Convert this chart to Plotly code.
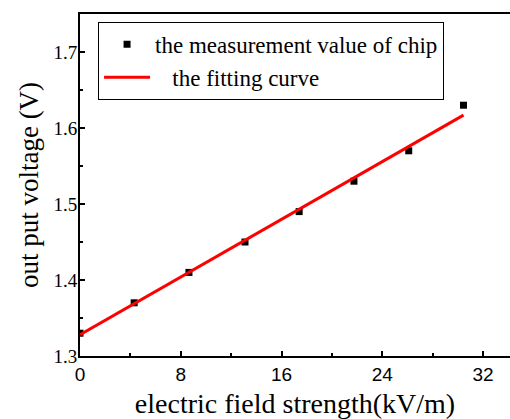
import plotly.graph_objects as go

field = [0, 4.3, 8.65, 13.1, 17.4, 21.75, 26.1, 30.45]
voltage = [1.33, 1.37, 1.41, 1.45, 1.49, 1.53, 1.57, 1.63]
fit_x = [0, 30.45]
fit_y = [1.328, 1.617]
x_ticks = [0, 8, 16, 24, 32]
y_ticks = [1.3, 1.4, 1.5, 1.6, 1.7]

fig = go.Figure()
fig.add_trace(go.Scatter(
    x=field, y=voltage, mode="markers", name="the measurement value of chip",
    marker=dict(symbol="square", size=7, color="black"), cliponaxis=True))
fig.add_trace(go.Scatter(
    x=fit_x, y=fit_y, mode="lines", name="&nbsp;&nbsp;&nbsp;the fitting curve",
    line=dict(color="#ff0000", width=3)))

fig.update_layout(
    width=510, height=419,
    margin=dict(l=80, r=0, t=14, b=63),
    plot_bgcolor="white", paper_bgcolor="white",
    showlegend=True,
    legend=dict(x=0.042, y=0.977, xanchor="left", yanchor="top",
                bordercolor="black", borderwidth=1, bgcolor="white",
                font=dict(family="Liberation Serif", size=23, color="black"),
                tracegroupgap=0, itemwidth=46),
    xaxis=dict(range=[0, 34.14], tickvals=x_ticks, ticks="inside", ticklen=5,
               tickwidth=2, tickcolor="black",
               showline=True, linecolor="black", linewidth=2, mirror=True,
               showgrid=False, zeroline=False,
               tickfont=dict(family="Liberation Sans", size=19, color="black"),
               minor=dict(ticks="inside", ticklen=3, dtick=4, tick0=0, tickcolor="black", tickwidth=2),
               title=dict(text="electric field strength(kV/m)", standoff=10,
                          font=dict(family="Liberation Serif", size=28, color="black"))),
    yaxis=dict(range=[1.3, 1.75], tickvals=y_ticks, ticks="inside", ticklen=5,
               tickwidth=2, tickcolor="black",
               showline=True, linecolor="black", linewidth=2, mirror=False,
               showgrid=False, zeroline=False,
               tickformat=".1f", ticklabelstandoff=-3,
               tickfont=dict(family="Liberation Serif", size=19, color="black"),
               minor=dict(ticks="inside", ticklen=3, dtick=0.05, tick0=1.3, tickcolor="black", tickwidth=2),
               title=dict(text="out put voltage (V)", standoff=7,
                          font=dict(family="Liberation Serif", size=27, color="black"))),
)

fig.write_html("out.html")
